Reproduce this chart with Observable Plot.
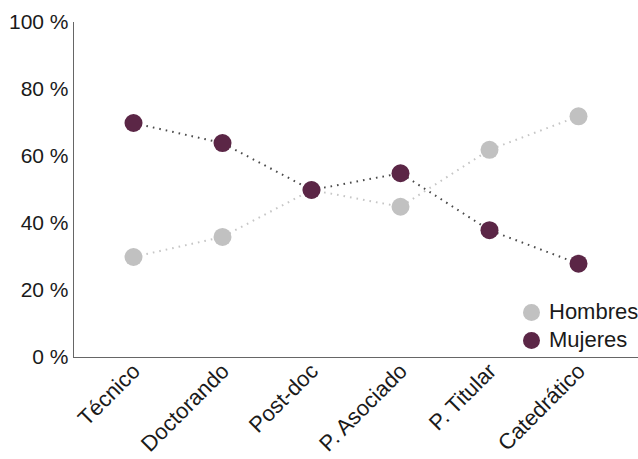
<!DOCTYPE html>
<html>
<head>
<meta charset="utf-8">
<script src="https://cdn.jsdelivr.net/npm/d3@7"></script>
<script src="https://cdn.jsdelivr.net/npm/@observablehq/plot@0.6"></script>
<style>
  body { margin: 0; background: #fff; font-family: "Liberation Sans", Arial, sans-serif; }
  #chart { position: relative; width: 638px; height: 459px; }
  #chart svg text { fill: #1a1a1a; }
  .legend { position: absolute; left: 523px; top: 298px; font-size: 22px; color: #1a1a1a; line-height: 1; }
  .legend .item { display: flex; align-items: center; height: 28px; }
  .legend .sw { width: 17px; height: 17px; border-radius: 50%; margin-right: 9px; flex: none; }
</style>
</head>
<body>
<div id="chart"></div>
<script>
// Share of men and women at each academic career stage (%)
const categories = ["Técnico", "Doctorando", "Post-doc", "P. Asociado", "P. Titular", "Catedrático"];
const hombres = [30, 36, 50, 45, 62, 72];
const mujeres = [70, 64, 50, 55, 38, 28];
const yTicks = [0, 20, 40, 60, 80, 100];
const seriesNames = ["Hombres", "Mujeres"];
const dotColors = ["#c1c1c1", "#5b2646"];
const lineColors = ["#c6c6c6", "#4a4a4a"];

// long-format table for the marks
const rows = [];
categories.forEach((cat, i) => {
  rows.push({cat, serie: seriesNames[0], value: hombres[i]});
  rows.push({cat, serie: seriesNames[1], value: mujeres[i]});
});

const chart = Plot.plot({
  width: 638,
  height: 459,
  marginLeft: 73,
  marginRight: 0,
  marginTop: 22,
  marginBottom: 102,
  style: {fontFamily: "'Liberation Sans', Arial, sans-serif", fontSize: "21px", color: "#666", background: "#fff"},
  x: {type: "point", domain: categories, padding: 0.64, axis: null},
  y: {
    domain: [0, 100],
    ticks: yTicks,
    tickSize: 0,
    tickPadding: 5,
    line: true,
    label: null,
    tickFormat: d => d + " %"
  },
  color: {domain: seriesNames, range: dotColors},
  marks: [
    Plot.ruleY([0], {stroke: "#666", strokeWidth: 1.2}),
    ...seriesNames.map((s, k) =>
      Plot.line(rows.filter(r => r.serie === s), {
        x: "cat", y: "value",
        stroke: lineColors[k], strokeWidth: 2,
        strokeDasharray: "1.6 5", strokeLinecap: "butt"
      })
    ),
    Plot.dot(rows, {x: "cat", y: "value", fill: "serie", r: 9}),
    Plot.text(categories, {
      x: d => d,
      frameAnchor: "bottom",
      rotate: -45,
      textAnchor: "end",
      lineAnchor: "middle",
      dx: 3, dy: 10,
      fontSize: 22
    })
  ]
});

const root = document.getElementById("chart");
root.appendChild(chart);

// legend
const legend = document.createElement("div");
legend.className = "legend";
seriesNames.forEach((s, k) => {
  const item = document.createElement("div");
  item.className = "item";
  const sw = document.createElement("span");
  sw.className = "sw";
  sw.style.background = dotColors[k];
  const label = document.createElement("span");
  label.textContent = s;
  item.appendChild(sw);
  item.appendChild(label);
  legend.appendChild(item);
});
root.appendChild(legend);
</script>
</body>
</html>
